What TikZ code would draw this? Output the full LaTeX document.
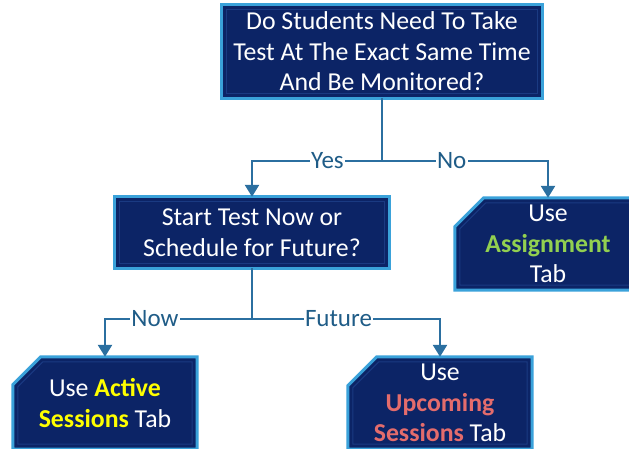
\documentclass[tikz,border=0pt]{standalone}
\usepackage{fontspec}
\setmainfont{Carlito}
\usetikzlibrary{arrows.meta,backgrounds}
\definecolor{navy}{HTML}{0C2466}
\definecolor{navyedge}{HTML}{1A3A82}
\definecolor{rim}{HTML}{3AA2DA}
\definecolor{wire}{HTML}{2B6FA0}
\definecolor{lbl}{HTML}{1F5C87}
\definecolor{grn}{HTML}{92D050}
\definecolor{ylw}{HTML}{FFFF00}
\definecolor{slm}{HTML}{E46C6C}
\tikzset{
  boxtext/.style={text=white, align=center, inner sep=0pt,
    font=\fontsize{25.8}{30.5}\selectfont},
  boxshape/.style={fill=navy, draw=rim, line width=3pt, line join=miter},
  bevel/.style={draw=navyedge, line width=1pt},
  conn/.style={draw=wire, line width=2.5pt},
  arr/.style={conn, -{Triangle[width=14pt,length=12pt]}},
  lab/.style={fill=white, text=lbl, inner sep=1.5pt, font=\fontsize{25}{30}\selectfont}
}
\begin{document}
\begin{tikzpicture}[x=1pt,y=-1pt]
\useasboundingbox (0,0) rectangle (629,449);
\clip (0,0) rectangle (629,449);
% nodes
\node[boxtext, minimum width=320pt, minimum height=93pt] (top) at (382,51.5)
  {Do Students Need To Take\\Test At The Exact Same Time\\And Be Monitored?};
\node[boxtext, minimum width=275pt, minimum height=71pt] (mid) at (252,232.5)
  {Start Test Now or\\Schedule for Future?};
\node[boxtext, minimum width=186pt, minimum height=92pt] (asg) at (548,244)
  {Use\\\textbf{\textcolor{grn}{Assignment}}\\Tab};
\node[boxtext, minimum width=184pt, minimum height=92pt] (act) at (105,403)
  {Use \textbf{\textcolor{ylw}{Active}}\\\textbf{\textcolor{ylw}{Sessions}} Tab};
\node[boxtext, minimum width=184pt, minimum height=92pt] (upc) at (440,403)
  {Use\\\textbf{\textcolor{slm}{Upcoming}}\\\textbf{\textcolor{slm}{Sessions}} Tab};
% box shapes
\begin{scope}[on background layer]
  \path[boxshape] (top.north west) rectangle (top.south east);
  \path[bevel] ([shift={(5pt,-5pt)}]top.north west) rectangle ([shift={(-5pt,5pt)}]top.south east);
  \path[boxshape] (mid.north west) rectangle (mid.south east);
  \path[bevel] ([shift={(5pt,-5pt)}]mid.north west) rectangle ([shift={(-5pt,5pt)}]mid.south east);
  \foreach \n/\c in {asg/29, act/28, upc/29}{
    \path[boxshape] ([yshift=-\c pt]\n.north west) -- ([xshift=\c pt]\n.north west)
       -- (\n.north east) -- (\n.south east) -- (\n.south west) -- cycle;
    \path[bevel] ([shift={(5pt,-\c pt-2pt)}]\n.north west) -- ([shift={(\c pt+2pt,-5pt)}]\n.north west)
       -- ([shift={(-5pt,-5pt)}]\n.north east) -- ([shift={(-5pt,5pt)}]\n.south east)
       -- ([shift={(5pt,5pt)}]\n.south west) -- cycle;
  }
\end{scope}
% connectors
\coordinate (j1) at (382,161);
\coordinate (j2) at (252,319);
\draw[conn] (top.south) -- (j1);
\draw[arr] (j1) -| node[lab, pos=0.21] {Yes} (mid.north);
\draw[arr] (j1) -| node[lab, pos=0.21] {No} (asg.north);
\draw[conn] (mid.south) -- (j2);
\draw[arr] (j2) -| node[lab, pos=0.33] {Now} (act.north);
\draw[arr] (j2) -| node[lab, pos=0.23] {Future} (upc.north);
\end{tikzpicture}
\end{document}
